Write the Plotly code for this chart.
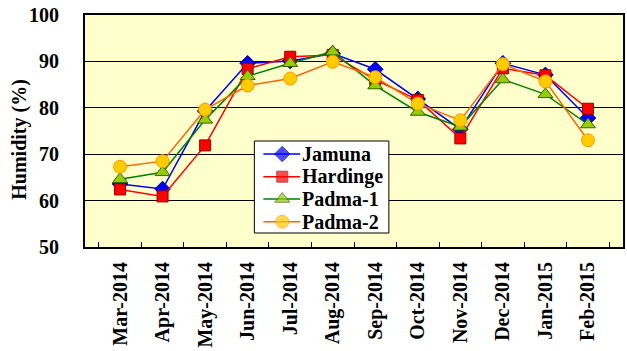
import plotly.graph_objects as go

months = ["Mar-2014", "Apr-2014", "May-2014", "Jun-2014", "Jul-2014", "Aug-2014",
          "Sep-2014", "Oct-2014", "Nov-2014", "Dec-2014", "Jan-2015", "Feb-2015"]

jamuna = [63.6, 62.5, 79.3, 89.6, 90.1, 91.7, 88.3, 81.9, 75.4, 89.6, 87.1, 77.8]
hardinge = [62.4, 60.9, 71.9, 88.4, 91.0, 91.4, 86.0, 81.7, 73.4, 88.5, 87.0, 79.8]
padma1 = [64.6, 66.1, 77.4, 86.8, 89.6, 92.1, 84.8, 79.1, 75.9, 86.1, 82.9, 76.4]
padma2 = [67.3, 68.5, 79.6, 84.8, 86.3, 89.9, 86.6, 80.9, 77.3, 89.4, 85.7, 73.0]

y_ticks = [50, 60, 70, 80, 90, 100]

FONT = "Liberation Serif"
W, H = 627, 351
ML, MR, MT, MB = 85, 2, 15, 104
PW, PH = W - ML - MR, H - MT - MB

series = [
    ("Jamuna", jamuna, "#0000FF", dict(symbol="diamond", size=12, color="#0000FF",
                                        line=dict(color="#000080", width=1))),
    ("Hardinge", hardinge, "#FF0000", dict(symbol="square", size=11, color="#FF0000",
                                           line=dict(color="#990000", width=1))),
    ("Padma-1", padma1, "#008000", dict(symbol="triangle-up", size=13, color="#99CC00",
                                        line=dict(color="#336600", width=1))),
    ("Padma-2", padma2, "#FF6600", dict(symbol="circle", size=13, color="#FFCC00",
                                        line=dict(color="#FF9900", width=1))),
]

fig = go.Figure()
for name, vals, lc, mk in series:
    fig.add_trace(go.Scatter(
        x=months, y=vals, name=name, mode="lines+markers",
        line=dict(color=lc, width=1.5), marker=mk, showlegend=False,
    ))

# Legend box drawn on an overlay axis measured in plot-area pixels
box_l, box_r, box_t, box_b = 170, 305, 126, 218
fig.add_trace(go.Scatter(
    x=[box_l, box_r, box_r, box_l, box_l], y=[box_t, box_t, box_b, box_b, box_t],
    mode="lines", fill="toself", fillcolor="white",
    line=dict(color="black", width=1), xaxis="x2", yaxis="y2",
    showlegend=False, hoverinfo="skip",
))
row_y = [box_t + 13, box_t + 35.7, box_t + 58, box_t + 80.7]
for (name, vals, lc, mk), ry in zip(series, row_y):
    sample_marker = dict(mk)
    sample_marker["size"] = [0, mk["size"], 0]
    fig.add_trace(go.Scatter(
        x=[box_l + 9, box_l + 28, box_l + 46], y=[ry, ry, ry],
        mode="lines+markers", line=dict(color=lc, width=1.5),
        marker=sample_marker, xaxis="x2", yaxis="y2",
        showlegend=False, hoverinfo="skip",
    ))
    fig.add_annotation(
        x=(box_l + 46) / PW, y=1 - ry / PH, xref="paper", yref="paper",
        xanchor="left", yanchor="middle", text=name, showarrow=False,
        font=dict(family=FONT, size=20, color="black", weight="bold"),
    )

fig.add_annotation(
    x=(19 - ML) / PW, y=(MT + PH - 139.5) / PH, xref="paper", yref="paper",
    xanchor="center", yanchor="middle", text="Humidity (%)", textangle=-90,
    showarrow=False, font=dict(family=FONT, size=20, color="black", weight="bold"),
)

fig.update_layout(
    width=W, height=H,
    margin=dict(l=ML, r=MR, t=MT, b=MB),
    paper_bgcolor="white",
    plot_bgcolor="#FFFFCC",
    font=dict(family=FONT, color="black", size=20),
    showlegend=False,
    xaxis=dict(
        type="category", categoryorder="array", categoryarray=months,
        tickangle=-90, tickfont=dict(family=FONT, size=20, weight="bold"),
        ticks="inside", tickson="boundaries", ticklen=5, tickcolor="black", tickwidth=1,
        ticklabelstandoff=5,
        showline=True, linecolor="black", linewidth=2, mirror=True,
        showgrid=False,
    ),
    yaxis=dict(
        range=[50, 100], tickvals=y_ticks,
        tickfont=dict(family=FONT, size=20, weight="bold"),
        showgrid=True, gridcolor="black", gridwidth=1,
        showline=True, linecolor="black", linewidth=2, mirror=True,
        ticks="", zeroline=False, ticklabelstandoff=20,
    ),
    xaxis2=dict(overlaying="x", range=[0, PW], visible=False, fixedrange=True),
    yaxis2=dict(overlaying="y", range=[PH, 0], visible=False, fixedrange=True),
)

fig.write_html("out.html")
